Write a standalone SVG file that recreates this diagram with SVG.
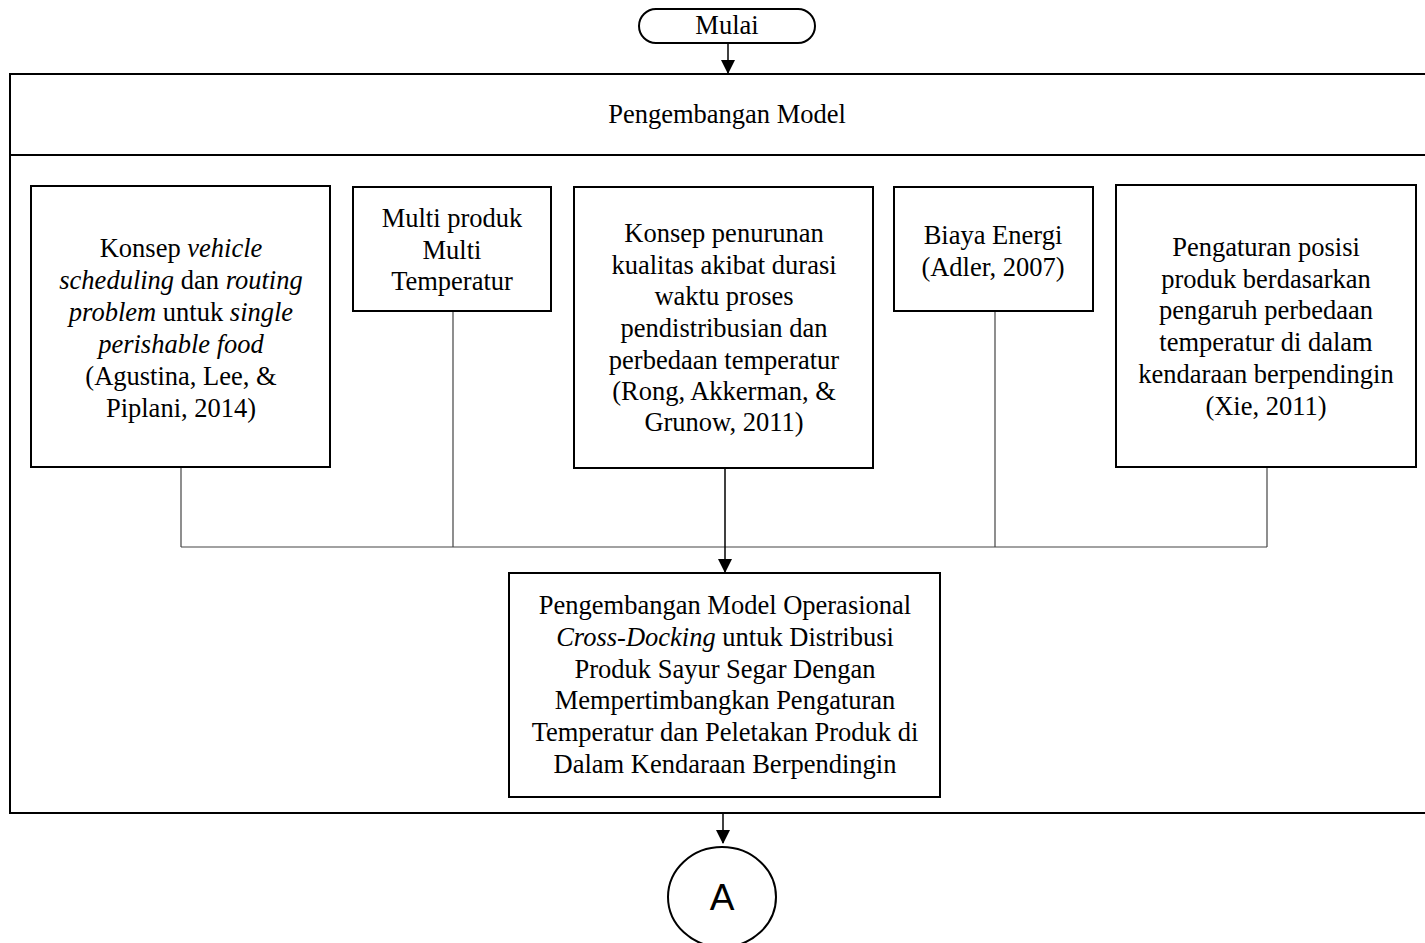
<svg xmlns="http://www.w3.org/2000/svg" width="1425" height="943" viewBox="0 0 1425 943">
<style>
.box{fill:#fff;stroke:#000;stroke-width:2}
.frame{fill:none;stroke:#000;stroke-width:2}
.t{font-family:"Liberation Serif","Times New Roman",serif;font-size:26.5px;fill:#000;text-anchor:middle}
.i{font-style:italic}
.c{stroke:#444;stroke-width:1.2;fill:none}
.a{stroke:#000;stroke-width:1.5;fill:none}
</style>
<defs>
<marker id="arrB" markerWidth="14" markerHeight="14" refX="13" refY="7" orient="auto" markerUnits="userSpaceOnUse"><path d="M0,0 L14,7 L0,14 Z" fill="#000"/></marker>
</defs>
<g id="frame">
<path class="frame" d="M1426,74 L10,74 L10,813 L1426,813"/>
<line class="frame" x1="10" y1="155" x2="1426" y2="155"/>
<text class="t" x="727" y="123">Pengembangan Model</text>
</g>
<g id="mulai">
<rect x="639" y="9" width="176" height="34" rx="17" ry="17" fill="#fff" stroke="#000" stroke-width="2"/>
<text class="t" x="727" y="34">Mulai</text>
</g>
<g id="connectors">
<line class="a" x1="728" y1="43" x2="728" y2="73" marker-end="url(#arrB)"/>
<line class="c" x1="181" y1="468" x2="181" y2="547"/>
<line class="c" x1="453" y1="312" x2="453" y2="547"/>
<line class="c" x1="995" y1="312" x2="995" y2="547"/>
<line class="c" x1="1267" y1="468" x2="1267" y2="547"/>
<line class="c" x1="181" y1="547" x2="1267" y2="547"/>
<line class="a" x1="725" y1="469" x2="725" y2="572" marker-end="url(#arrB)"/>
<line class="a" x1="723" y1="814" x2="723" y2="843" marker-end="url(#arrB)"/>
</g>
<g id="n1">
<rect class="box" x="31" y="186" width="299" height="281"/>
<text class="t"><tspan x="181" y="257">Konsep <tspan class="i">vehicle</tspan></tspan><tspan x="181" y="289"><tspan class="i">scheduling</tspan> dan <tspan class="i">routing</tspan></tspan><tspan x="181" y="321"><tspan class="i">problem</tspan> untuk <tspan class="i">single</tspan></tspan><tspan x="181" y="353" class="i">perishable food</tspan><tspan x="181" y="385">(Agustina, Lee, &amp;</tspan><tspan x="181" y="417">Piplani, 2014)</tspan></text>
</g>
<g id="n2">
<rect class="box" x="353" y="187" width="198" height="124"/>
<text class="t"><tspan x="452" y="227">Multi produk</tspan><tspan x="452" y="259">Multi</tspan><tspan x="452" y="290">Temperatur</tspan></text>
</g>
<g id="n3">
<rect class="box" x="574" y="187" width="299" height="281"/>
<text class="t"><tspan x="724" y="242">Konsep penurunan</tspan><tspan x="724" y="274">kualitas akibat durasi</tspan><tspan x="724" y="305">waktu proses</tspan><tspan x="724" y="337">pendistribusian dan</tspan><tspan x="724" y="369">perbedaan temperatur</tspan><tspan x="724" y="400">(Rong, Akkerman, &amp;</tspan><tspan x="724" y="431">Grunow, 2011)</tspan></text>
</g>
<g id="n4">
<rect class="box" x="894" y="187" width="199" height="124"/>
<text class="t"><tspan x="993" y="244">Biaya Energi</tspan><tspan x="993" y="276">(Adler, 2007)</tspan></text>
</g>
<g id="n5">
<rect class="box" x="1116" y="185" width="300" height="282"/>
<text class="t"><tspan x="1266" y="256">Pengaturan posisi</tspan><tspan x="1266" y="288">produk berdasarkan</tspan><tspan x="1266" y="319">pengaruh perbedaan</tspan><tspan x="1266" y="351">temperatur di dalam</tspan><tspan x="1266" y="383">kendaraan berpendingin</tspan><tspan x="1266" y="415">(Xie, 2011)</tspan></text>
</g>
<g id="n6">
<rect class="box" x="509" y="573" width="431" height="224"/>
<text class="t"><tspan x="725" y="614">Pengembangan Model Operasional</tspan><tspan x="725" y="646"><tspan class="i">Cross-Docking</tspan> untuk Distribusi</tspan><tspan x="725" y="678">Produk Sayur Segar Dengan</tspan><tspan x="725" y="709">Mempertimbangkan Pengaturan</tspan><tspan x="725" y="741">Temperatur dan Peletakan Produk di</tspan><tspan x="725" y="773">Dalam Kendaraan Berpendingin</tspan></text>
</g>
<g id="nA">
<ellipse cx="722" cy="897" rx="54" ry="50" fill="#fff" stroke="#000" stroke-width="2"/>
<text x="722" y="910" font-family="'Liberation Sans',Arial,sans-serif" font-size="37" text-anchor="middle">A</text>
</g>
</svg>
